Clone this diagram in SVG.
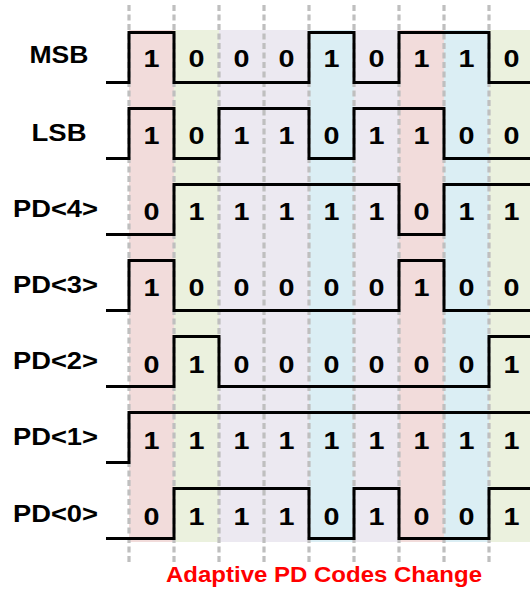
<svg xmlns="http://www.w3.org/2000/svg" width="530" height="589" viewBox="0 0 530 589">
  <style>
    .bg-pink { fill: #f2dcdb; }
    .bg-green { fill: #ebf1de; }
    .bg-lav { fill: #ece9f1; }
    .bg-blue { fill: #dbeef4; }
    .grid line { stroke: #bfbfbf; stroke-width: 3.2; stroke-dasharray: 6 3.5; }
    .wave { fill: none; stroke: #000; stroke-width: 3; stroke-linejoin: miter; }
    .lbl { font-family: "Liberation Sans", Arial, sans-serif; font-weight: bold; font-size: 23px; fill: #000; text-anchor: middle; }
    .bit text { font-family: "Liberation Sans", Arial, sans-serif; font-weight: bold; font-size: 23px; fill: #000; text-anchor: middle; }
    .note { font-family: "Liberation Sans", Arial, sans-serif; font-weight: bold; font-size: 22px; fill: #ff0000; text-anchor: middle; }
  </style>

  <!-- column shading -->
  <g id="shading">
    <rect class="bg-pink" x="129" y="30" width="45" height="512"/>
    <rect class="bg-green" x="174" y="30" width="45" height="512"/>
    <rect class="bg-lav" x="219" y="30" width="90" height="512"/>
    <rect class="bg-blue" x="309" y="30" width="45" height="512"/>
    <rect class="bg-lav" x="354" y="30" width="45" height="512"/>
    <rect class="bg-pink" x="399" y="30" width="45" height="512"/>
    <rect class="bg-blue" x="444" y="30" width="45" height="512"/>
    <rect class="bg-green" x="489" y="30" width="41" height="512"/>
  </g>

  <!-- dashed clock-edge grid -->
  <g id="grid" class="grid">
    <line x1="129" y1="5" x2="129" y2="563"/>
    <line x1="174" y1="5" x2="174" y2="563"/>
    <line x1="219" y1="5" x2="219" y2="563"/>
    <line x1="264" y1="5" x2="264" y2="563"/>
    <line x1="309" y1="5" x2="309" y2="563"/>
    <line x1="354" y1="5" x2="354" y2="563"/>
    <line x1="399" y1="5" x2="399" y2="563"/>
    <line x1="444" y1="5" x2="444" y2="563"/>
    <line x1="489" y1="5" x2="489" y2="563"/>
  </g>

  <!-- signal waveforms -->
  <g id="waveforms">
    <path id="wave-msb" class="wave" d="M106 82.5 H129 V32.5 H174 V82.5 H309 V32.5 H354 V82.5 H399 V32.5 H489 V82.5 H530"/>
    <path id="wave-lsb" class="wave" d="M106 158.5 H129 V108.5 H174 V158.5 H219 V108.5 H309 V158.5 H354 V108.5 H444 V158.5 H530"/>
    <path id="wave-pd4" class="wave" d="M106 234.5 H174 V184.5 H399 V234.5 H444 V184.5 H530"/>
    <path id="wave-pd3" class="wave" d="M106 310.5 H129 V260.5 H174 V310.5 H399 V260.5 H444 V310.5 H530"/>
    <path id="wave-pd2" class="wave" d="M106 386.5 H174 V336.5 H219 V386.5 H489 V336.5 H530"/>
    <path id="wave-pd1" class="wave" d="M106 462.5 H129 V412.5 H530"/>
    <path id="wave-pd0" class="wave" d="M106 538.5 H174 V488.5 H309 V538.5 H354 V488.5 H399 V538.5 H489 V488.5 H530"/>
  </g>

  <!-- signal names -->
  <g id="labels">
    <text class="lbl" x="59" y="63" textLength="59" lengthAdjust="spacingAndGlyphs">MSB</text>
    <text class="lbl" x="59" y="141" textLength="55" lengthAdjust="spacingAndGlyphs">LSB</text>
    <text class="lbl" x="55.5" y="217" textLength="85" lengthAdjust="spacingAndGlyphs">PD&lt;4&gt;</text>
    <text class="lbl" x="55.5" y="293" textLength="85" lengthAdjust="spacingAndGlyphs">PD&lt;3&gt;</text>
    <text class="lbl" x="55.5" y="369" textLength="85" lengthAdjust="spacingAndGlyphs">PD&lt;2&gt;</text>
    <text class="lbl" x="55.5" y="445" textLength="85" lengthAdjust="spacingAndGlyphs">PD&lt;1&gt;</text>
    <text class="lbl" x="55.5" y="522" textLength="85" lengthAdjust="spacingAndGlyphs">PD&lt;0&gt;</text>
  </g>

  <!-- bit values per column (each glyph widened to 16px) -->
  <g id="bits-msb" class="bit">
    <text x="151.5" y="67" textLength="16" lengthAdjust="spacingAndGlyphs">1</text><text x="196.5" y="67" textLength="16" lengthAdjust="spacingAndGlyphs">0</text><text x="241.5" y="67" textLength="16" lengthAdjust="spacingAndGlyphs">0</text>
    <text x="286.5" y="67" textLength="16" lengthAdjust="spacingAndGlyphs">0</text><text x="331.5" y="67" textLength="16" lengthAdjust="spacingAndGlyphs">1</text><text x="376.5" y="67" textLength="16" lengthAdjust="spacingAndGlyphs">0</text>
    <text x="421.5" y="67" textLength="16" lengthAdjust="spacingAndGlyphs">1</text><text x="466.5" y="67" textLength="16" lengthAdjust="spacingAndGlyphs">1</text><text x="511.5" y="67" textLength="16" lengthAdjust="spacingAndGlyphs">0</text>
  </g>
  <g id="bits-lsb" class="bit">
    <text x="151.5" y="143.5" textLength="16" lengthAdjust="spacingAndGlyphs">1</text><text x="196.5" y="143.5" textLength="16" lengthAdjust="spacingAndGlyphs">0</text><text x="241.5" y="143.5" textLength="16" lengthAdjust="spacingAndGlyphs">1</text>
    <text x="286.5" y="143.5" textLength="16" lengthAdjust="spacingAndGlyphs">1</text><text x="331.5" y="143.5" textLength="16" lengthAdjust="spacingAndGlyphs">0</text><text x="376.5" y="143.5" textLength="16" lengthAdjust="spacingAndGlyphs">1</text>
    <text x="421.5" y="143.5" textLength="16" lengthAdjust="spacingAndGlyphs">1</text><text x="466.5" y="143.5" textLength="16" lengthAdjust="spacingAndGlyphs">0</text><text x="511.5" y="143.5" textLength="16" lengthAdjust="spacingAndGlyphs">0</text>
  </g>
  <g id="bits-pd4" class="bit">
    <text x="151.5" y="220" textLength="16" lengthAdjust="spacingAndGlyphs">0</text><text x="196.5" y="220" textLength="16" lengthAdjust="spacingAndGlyphs">1</text><text x="241.5" y="220" textLength="16" lengthAdjust="spacingAndGlyphs">1</text>
    <text x="286.5" y="220" textLength="16" lengthAdjust="spacingAndGlyphs">1</text><text x="331.5" y="220" textLength="16" lengthAdjust="spacingAndGlyphs">1</text><text x="376.5" y="220" textLength="16" lengthAdjust="spacingAndGlyphs">1</text>
    <text x="421.5" y="220" textLength="16" lengthAdjust="spacingAndGlyphs">0</text><text x="466.5" y="220" textLength="16" lengthAdjust="spacingAndGlyphs">1</text><text x="511.5" y="220" textLength="16" lengthAdjust="spacingAndGlyphs">1</text>
  </g>
  <g id="bits-pd3" class="bit">
    <text x="151.5" y="296" textLength="16" lengthAdjust="spacingAndGlyphs">1</text><text x="196.5" y="296" textLength="16" lengthAdjust="spacingAndGlyphs">0</text><text x="241.5" y="296" textLength="16" lengthAdjust="spacingAndGlyphs">0</text>
    <text x="286.5" y="296" textLength="16" lengthAdjust="spacingAndGlyphs">0</text><text x="331.5" y="296" textLength="16" lengthAdjust="spacingAndGlyphs">0</text><text x="376.5" y="296" textLength="16" lengthAdjust="spacingAndGlyphs">0</text>
    <text x="421.5" y="296" textLength="16" lengthAdjust="spacingAndGlyphs">1</text><text x="466.5" y="296" textLength="16" lengthAdjust="spacingAndGlyphs">0</text><text x="511.5" y="296" textLength="16" lengthAdjust="spacingAndGlyphs">0</text>
  </g>
  <g id="bits-pd2" class="bit">
    <text x="151.5" y="372.5" textLength="16" lengthAdjust="spacingAndGlyphs">0</text><text x="196.5" y="372.5" textLength="16" lengthAdjust="spacingAndGlyphs">1</text><text x="241.5" y="372.5" textLength="16" lengthAdjust="spacingAndGlyphs">0</text>
    <text x="286.5" y="372.5" textLength="16" lengthAdjust="spacingAndGlyphs">0</text><text x="331.5" y="372.5" textLength="16" lengthAdjust="spacingAndGlyphs">0</text><text x="376.5" y="372.5" textLength="16" lengthAdjust="spacingAndGlyphs">0</text>
    <text x="421.5" y="372.5" textLength="16" lengthAdjust="spacingAndGlyphs">0</text><text x="466.5" y="372.5" textLength="16" lengthAdjust="spacingAndGlyphs">0</text><text x="511.5" y="372.5" textLength="16" lengthAdjust="spacingAndGlyphs">1</text>
  </g>
  <g id="bits-pd1" class="bit">
    <text x="151.5" y="448.5" textLength="16" lengthAdjust="spacingAndGlyphs">1</text><text x="196.5" y="448.5" textLength="16" lengthAdjust="spacingAndGlyphs">1</text><text x="241.5" y="448.5" textLength="16" lengthAdjust="spacingAndGlyphs">1</text>
    <text x="286.5" y="448.5" textLength="16" lengthAdjust="spacingAndGlyphs">1</text><text x="331.5" y="448.5" textLength="16" lengthAdjust="spacingAndGlyphs">1</text><text x="376.5" y="448.5" textLength="16" lengthAdjust="spacingAndGlyphs">1</text>
    <text x="421.5" y="448.5" textLength="16" lengthAdjust="spacingAndGlyphs">1</text><text x="466.5" y="448.5" textLength="16" lengthAdjust="spacingAndGlyphs">1</text><text x="511.5" y="448.5" textLength="16" lengthAdjust="spacingAndGlyphs">1</text>
  </g>
  <g id="bits-pd0" class="bit">
    <text x="151.5" y="525" textLength="16" lengthAdjust="spacingAndGlyphs">0</text><text x="196.5" y="525" textLength="16" lengthAdjust="spacingAndGlyphs">1</text><text x="241.5" y="525" textLength="16" lengthAdjust="spacingAndGlyphs">1</text>
    <text x="286.5" y="525" textLength="16" lengthAdjust="spacingAndGlyphs">1</text><text x="331.5" y="525" textLength="16" lengthAdjust="spacingAndGlyphs">0</text><text x="376.5" y="525" textLength="16" lengthAdjust="spacingAndGlyphs">1</text>
    <text x="421.5" y="525" textLength="16" lengthAdjust="spacingAndGlyphs">0</text><text x="466.5" y="525" textLength="16" lengthAdjust="spacingAndGlyphs">0</text><text x="511.5" y="525" textLength="16" lengthAdjust="spacingAndGlyphs">1</text>
  </g>

  <!-- caption -->
  <g id="caption">
    <text class="note" x="324" y="582" textLength="316" lengthAdjust="spacingAndGlyphs">Adaptive PD Codes Change</text>
  </g>
</svg>
